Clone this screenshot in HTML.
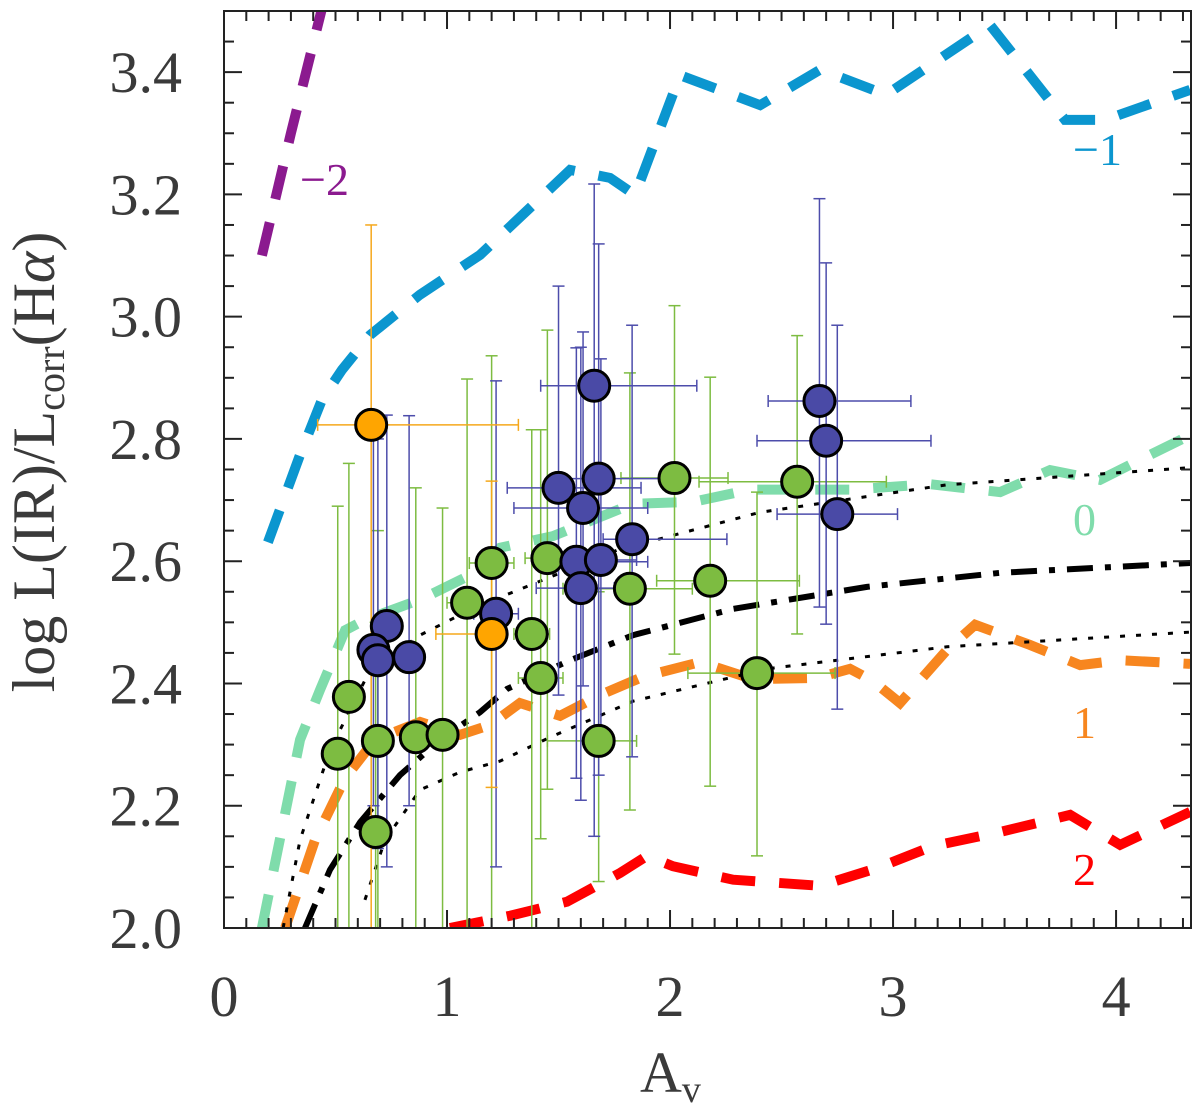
<!DOCTYPE html>
<html><head><meta charset="utf-8"><style>
html,body{margin:0;padding:0;background:#fff;}
svg{display:block;}
text{font-family:"Liberation Serif",serif;}
</style></head><body>
<svg id="chart" width="1200" height="1109" viewBox="0 0 1200 1109" xmlns="http://www.w3.org/2000/svg">
<defs><clipPath id="clip"><rect x="224" y="11" width="967" height="917"/></clipPath></defs>
<g id="models" clip-path="url(#clip)"></g>
<g id="errs" clip-path="url(#clip)"></g>
<g id="pts"></g>
<g id="axes"></g>
<g id="labels"></g>
</svg>
<script>
// ---- data ----
const xTicks=[0,1,2,3,4];
const yTicks=[2.0,2.2,2.4,2.6,2.8,3.0,3.2,3.4];
const yTickLabels=["2.0","2.2","2.4","2.6","2.8","3.0","3.2","3.4"];
const xTickLabels=["0","1","2","3","4"];
const curveM2=[[0.17,3.10],[0.30,3.30],[0.45,3.52]];
const curveM1=[[0.197,2.631],[0.341,2.774],[0.439,2.864],[0.529,2.913],[0.655,2.970],[0.879,3.036],[1.148,3.101],[1.552,3.240],[1.731,3.227],[1.843,3.199],[2.045,3.395],[2.404,3.346],[2.673,3.404],[2.969,3.363],[3.435,3.477],[3.771,3.322],[3.951,3.322],[4.332,3.371]];
const curve0=[[0.17,2.0],[0.341,2.308],[0.43,2.389],[0.543,2.487],[0.632,2.504],[0.879,2.537],[1.103,2.577],[1.238,2.622],[1.475,2.641],[1.61,2.661],[1.834,2.694],[2.103,2.697],[2.359,2.717],[2.807,2.717],[3.166,2.726],[3.48,2.713],[3.704,2.749],[3.928,2.733],[4.152,2.774],[4.332,2.806]];
const curve1=[[0.274,2.0],[0.408,2.144],[0.543,2.245],[0.677,2.308],[0.879,2.337],[1.058,2.316],[1.193,2.332],[1.327,2.368],[1.507,2.347],[1.686,2.381],[1.879,2.411],[2.135,2.435],[2.372,2.407],[2.659,2.409],[2.807,2.424],[2.91,2.404],[3.031,2.368],[3.242,2.455],[3.368,2.496],[3.614,2.463],[3.839,2.430],[4.018,2.438],[4.332,2.432]];
const curve2=[[1.013,2.0],[1.283,2.020],[1.538,2.043],[1.776,2.090],[1.897,2.118],[2.013,2.101],[2.283,2.079],[2.673,2.069],[2.928,2.098],[3.179,2.134],[3.48,2.157],[3.794,2.185],[4.018,2.136],[4.332,2.190]];
const curveMid=[[0.363,2.0],[0.475,2.095],[0.61,2.173],[0.789,2.250],[0.969,2.308],[1.148,2.353],[1.269,2.391],[1.552,2.438],[1.834,2.479],[2.283,2.522],[2.883,2.558],[3.48,2.581],[4.332,2.597]];
const curveUp=[[0.265,2.0],[0.341,2.144],[0.475,2.291],[0.655,2.422],[0.879,2.479],[1.058,2.512],[1.238,2.541],[1.762,2.618],[2.404,2.680],[3.242,2.725],[4.332,2.753]];
const curveLo=[[0.632,2.046],[0.722,2.144],[0.879,2.226],[1.058,2.255],[1.238,2.273],[1.462,2.312],[1.834,2.371],[2.435,2.424],[3.242,2.460],[4.332,2.484]];
// points: [x, y, xLo, xHi, yLo, yHi]
const greenPts=[[0.51,2.285,0.48,0.54,1.9,2.69],[0.56,2.378,0.50,0.62,1.9,2.76],[0.69,2.306,0.62,0.76,1.9,2.65],[0.68,2.157,0.65,0.71,1.9,2.50],[0.86,2.312,0.80,0.92,1.9,2.72],[0.98,2.316,0.93,1.03,1.9,2.687],[1.09,2.532,1.0,1.2,1.9,2.898],[1.20,2.597,1.10,1.30,1.9,2.936],[1.38,2.481,1.30,1.46,1.9,2.815],[1.45,2.605,1.35,1.55,2.227,2.978],[1.42,2.409,1.32,1.52,2.146,2.815],[1.68,2.306,1.45,1.85,2.076,2.55],[1.82,2.555,1.52,2.10,2.193,2.908],[2.02,2.736,1.78,2.26,2.448,3.018],[2.18,2.568,1.94,2.58,2.232,2.901],[2.39,2.417,2.08,2.74,2.118,2.713],[2.57,2.730,2.13,2.97,2.481,2.969]];
const bluePts=[[0.73,2.494,0.68,0.78,2.10,2.839],[0.67,2.455,0.62,0.72,2.20,2.84],[0.69,2.438,0.64,0.74,2.13,2.80],[0.83,2.443,0.78,0.88,2.20,2.838],[1.22,2.514,1.12,1.32,2.10,2.895],[1.50,2.72,1.27,1.87,2.381,3.05],[1.68,2.735,1.52,2.00,2.25,3.119],[1.61,2.687,1.30,1.90,2.396,2.975],[1.58,2.599,1.50,1.90,2.245,2.949],[1.60,2.556,1.40,1.75,2.209,2.95],[1.69,2.602,1.55,1.85,2.30,2.931],[1.83,2.636,1.70,2.255,2.28,2.986],[1.66,2.887,1.42,2.12,2.15,3.217],[2.67,2.862,2.44,3.08,2.525,3.193],[2.70,2.797,2.39,3.17,2.497,3.088],[2.75,2.677,2.48,3.02,2.358,2.986]];
const orangePts=[[0.66,2.823,0.42,1.32,1.9,3.15],[1.20,2.481,0.95,1.25,2.23,2.731]];
// ---- scales ----
const X0=224,X1=1191,Y0=928,Y1=11,xMax=4.336,yMin=2.0,yMax=3.5;
const sx=v=>X0+(v/xMax)*(X1-X0);
const sy=v=>Y0-(v-yMin)/(yMax-yMin)*(Y0-Y1);
const NS="http://www.w3.org/2000/svg";
function mk(tag,attrs,parent){const e=document.createElementNS(NS,tag);for(const k in attrs)e.setAttribute(k,attrs[k]);parent.appendChild(e);return e;}
const gM=document.getElementById('models'),gE=document.getElementById('errs'),gP=document.getElementById('pts'),gA=document.getElementById('axes'),gL=document.getElementById('labels');
function curve(data,color,w,dash,name){
  const p=mk('polyline',{points:data.map(d=>sx(d[0])+','+sy(d[1])).join(' '),fill:'none',stroke:color,'stroke-width':w,'stroke-dasharray':dash},gM);
  
  
}
curve(curveM2,'#8b1a8f',10,'34 24','curve-minus2');
curve(curveM1,'#0b96cf',10,'34 24','curve-minus1');
curve(curve0,'#7fdcab',10,'34 24','curve-0');
curve(curve1,'#f7861f',10,'34 24','curve-1');
curve(curve2,'#ff0000',10,'34 24','curve-2');
curve(curveMid,'#000',6,'26 12 6 12','curve-dashdot');
curve(curveUp,'#000',3,'5 11','curve-dotted-upper');
curve(curveLo,'#000',3,'5 11','curve-dotted-lower');
function pts(data,fill,ecol,name){
  data.forEach(d=>{
    const g=mk('g',{stroke:ecol,'stroke-width':1.5},gE);
    
    
    const x=sx(d[0]),y=sy(d[1]),c=6;
    mk('line',{x1:sx(d[2]),x2:sx(d[3]),y1:y,y2:y},g);
    mk('line',{x1:sx(d[2]),x2:sx(d[2]),y1:y-c,y2:y+c},g);
    mk('line',{x1:sx(d[3]),x2:sx(d[3]),y1:y-c,y2:y+c},g);
    mk('line',{x1:x,x2:x,y1:sy(d[4]),y2:sy(d[5])},g);
    mk('line',{x1:x-c,x2:x+c,y1:sy(d[4]),y2:sy(d[4])},g);
    mk('line',{x1:x-c,x2:x+c,y1:sy(d[5]),y2:sy(d[5])},g);
  });
}
pts(greenPts,'#7dbc41','#7dbc41','green-point');
pts(bluePts,'#4a4aa6','#4d4dab','blue-point');
pts(orangePts,'#ffa500','#f5a81c','orange-point');
function dots(data,fill,name){
  data.forEach(d=>{
    const c=mk('circle',{cx:sx(d[0]),cy:sy(d[1]),r:15.5,fill:fill,stroke:'#000','stroke-width':3},gP);
    
    
  });
}
dots(greenPts,'#7dbc41','green-point');
dots(bluePts,'#4a4aa6','blue-point');
dots(orangePts,'#ffa500','orange-point');
// axes
mk('rect',{x:X0,y:Y1,width:X1-X0,height:Y0-Y1,fill:'none',stroke:'#222','stroke-width':2},gA);
for(let i=0;i<=43;i++){const v=i/10,x=sx(v),L=(i%10===0)?18:10;
  mk('line',{x1:x,x2:x,y1:Y0,y2:Y0-L,stroke:'#222','stroke-width':2},gA);
  mk('line',{x1:x,x2:x,y1:Y1,y2:Y1+L,stroke:'#222','stroke-width':2},gA);}
for(let i=0;i<=30;i++){const v=2+i*0.05,y=sy(v),L=(i%4===0)?18:10;
  mk('line',{x1:X0,x2:X0+L,y1:y,y2:y,stroke:'#222','stroke-width':2},gA);
  mk('line',{x1:X1,x2:X1-L,y1:y,y2:y,stroke:'#222','stroke-width':2},gA);}
xTicks.forEach((v,i)=>{const t=mk('text',{x:sx(v),y:1016,'text-anchor':'middle','font-size':58,fill:'#3a3a3a'},gA);t.textContent=xTickLabels[i];
  
  });
yTicks.forEach((v,i)=>{const t=mk('text',{x:182,y:sy(v)+20,'text-anchor':'end','font-size':58,fill:'#3a3a3a'},gA);t.textContent=yTickLabels[i];
  
  });
const xt=mk('text',{x:640,y:1092,'font-size':58,fill:'#3a3a3a'},gA);xt.innerHTML='A<tspan font-size="38" dy="10">v</tspan>';


const yt=mk('text',{x:0,y:0,'font-size':60,fill:'#3a3a3a','text-anchor':'middle',transform:'translate(54,462) rotate(-90)'},gA);
yt.innerHTML='log  L(IR)/L<tspan font-size="40" dy="10">corr</tspan><tspan dy="-10">(H</tspan><tspan font-style="italic">α</tspan>)';


[['−2',300,195,'#8b1a8f'],['−1',1073,165,'#0b96cf'],['0',1073,535,'#7fdcab'],['1',1073,738,'#f7861f'],['2',1073,885,'#ff0000']].forEach(l=>{
  const t=mk('text',{x:l[1],y:l[2],'font-size':46,fill:l[3]},gL);t.textContent=l[0];
  
  });
</script>
</body></html>
